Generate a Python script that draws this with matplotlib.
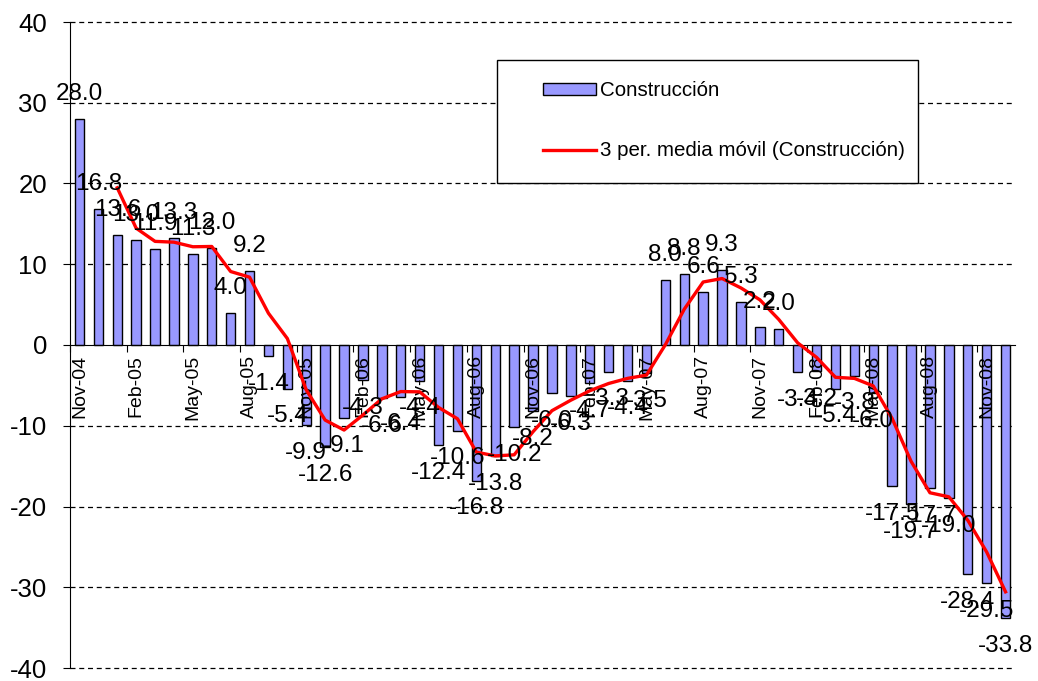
import numpy as np
import pandas as pd
import matplotlib
matplotlib.use('Agg')
import matplotlib.pyplot as plt
from matplotlib.patches import Rectangle

plt.rcParams['font.family'] = ['Liberation Sans', 'DejaVu Sans']
plt.rcParams['axes.unicode_minus'] = False

months = ['Nov-04', 'Dec-04', 'Jan-05', 'Feb-05', 'Mar-05', 'Apr-05', 'May-05', 'Jun-05',
          'Jul-05', 'Aug-05', 'Sep-05', 'Oct-05', 'Nov-05', 'Dec-05', 'Jan-06', 'Feb-06',
          'Mar-06', 'Apr-06', 'May-06', 'Jun-06', 'Jul-06', 'Aug-06', 'Sep-06', 'Oct-06',
          'Nov-06', 'Dec-06', 'Jan-07', 'Feb-07', 'Mar-07', 'Apr-07', 'May-07', 'Jun-07',
          'Jul-07', 'Aug-07', 'Sep-07', 'Oct-07', 'Nov-07', 'Dec-07', 'Jan-08', 'Feb-08',
          'Mar-08', 'Apr-08', 'May-08', 'Jun-08', 'Jul-08', 'Aug-08', 'Sep-08', 'Oct-08',
          'Nov-08', 'Dec-08']
construccion = [28.0, 16.8, 13.6, 13.0, 11.9, 13.3, 11.3, 12.0, 4.0, 9.2,
                -1.4, -5.4, -9.9, -12.6, -9.1, -4.3, -6.6, -6.4, -4.4, -12.4,
                -10.6, -16.8, -13.8, -10.2, -8.2, -6.0, -6.3, -4.7, -3.3, -4.4,
                -3.5, 8.0, 8.8, 6.6, 9.3, 5.3, 2.2, 2.0, -3.4, -3.2,
                -5.4, -3.8, -6.0, -17.5, -19.7, -17.7, -19.0, -28.4, -29.5, -33.8]
tick_labels = months[::3]
y_ticks = list(range(-40, 41, 10))

df = pd.DataFrame({'mes': months, 'construccion': construccion})
# 3-period moving average trendline, as in the spreadsheet
df['media_movil'] = df['construccion'].rolling(3).mean()
x = np.arange(len(df))

fig = plt.figure(figsize=(10.38, 6.81), dpi=100)
ax = fig.add_axes([70/1038, 13/681, 945/1038, 646/681])
ax.set_axisbelow(False)

# dashed gridlines kept behind the bars, tick labels stay on top of them
for yv in y_ticks:
    if yv != 0:
        ax.axhline(yv, color='black', lw=0.9, linestyle=(0, (4, 3)), zorder=0.5,
                   clip_on=False)

bars = ax.bar(x, df['construccion'], width=0.5, color='#9999FF', edgecolor='black',
              linewidth=1, zorder=2, label='Construcción')
line, = ax.plot(x, df['media_movil'], color='red', lw=2.4, zorder=3,
                label='3 per. media móvil (Construcción)')

for xi, v in zip(x, df['construccion']):
    off = 18 if v >= 0 else -20
    ax.annotate(f'{v:.1f}', (xi, v), xytext=(0, off), textcoords='offset points',
                ha='center', va='center', fontsize=17.5, zorder=4)

ax.set_xlim(-0.5, len(x) - 0.5)
ax.set_ylim(-40, 40)
ax.set_yticks(y_ticks)
ax.spines[['top', 'right']].set_visible(False)
ax.spines['bottom'].set_position(('data', 0))

ax.set_xticks(np.arange(-0.5, len(x) - 1, 3))
ax.set_xticklabels([])
ax.set_xticks(x[::3], minor=True)
ax.set_xticklabels(tick_labels, minor=True, rotation=90, fontsize=14)
ax.tick_params(axis='x', which='major', length=5, direction='out')
ax.tick_params(axis='x', which='minor', length=0, pad=7)
ax.tick_params(axis='y', labelsize=18.5, length=5, direction='out', pad=11.5)

# legend box (white, black border) like the spreadsheet legend
fig.add_artist(Rectangle((497/1038, 1 - 183/681), 421/1038, 123/681,
                         transform=fig.transFigure, facecolor='white',
                         edgecolor='black', lw=1, zorder=1))
fig.legend(handles=[bars, line], loc='upper left', bbox_to_anchor=(543/1038, 1 - 81/681),
           frameon=False, fontsize=14.8, borderpad=0, handlelength=2.6, handleheight=0.5,
           handletextpad=0.15, labelspacing=2.0, borderaxespad=0)

fig.savefig('out.png', dpi=100)
